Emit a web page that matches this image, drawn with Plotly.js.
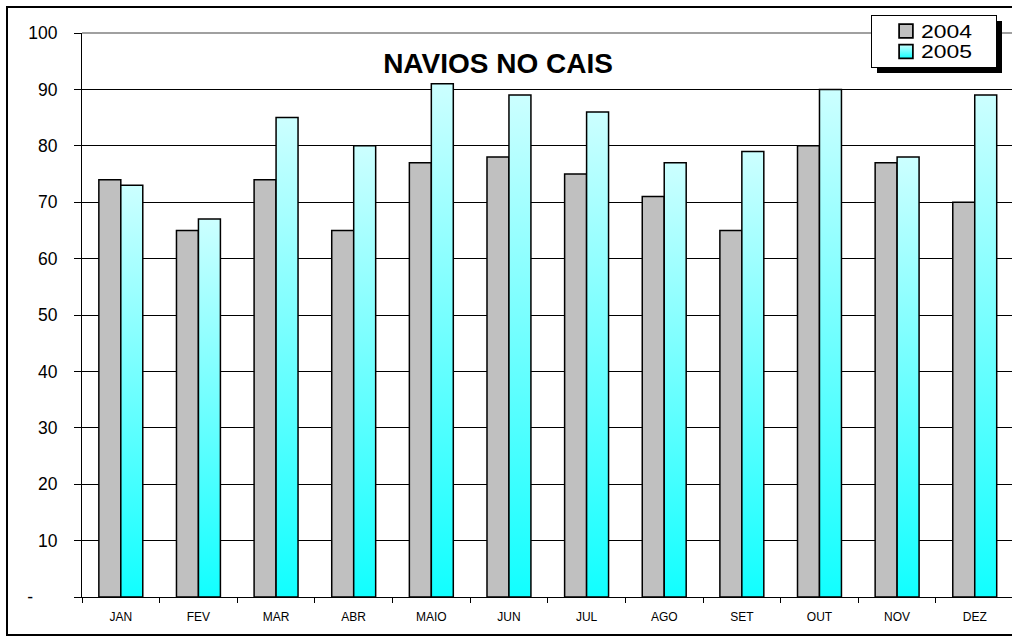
<!DOCTYPE html>
<html>
<head>
<meta charset="utf-8">
<script src="https://cdn.plot.ly/plotly-3.0.1.min.js"></script>
<style>
  html, body { margin: 0; padding: 0; background: #fff; }
  #chart { width: 1012px; height: 636px; }
</style>
</head>
<body>
<div id="chart"></div>
<script>
// ---- data ----
const months = ["JAN", "FEV", "MAR", "ABR", "MAIO", "JUN", "JUL", "AGO", "SET", "OUT", "NOV", "DEZ"];
const values2004 = [74, 65, 74, 65, 77, 78, 75, 71, 65, 80, 77, 70];
const values2005 = [73, 67, 85, 80, 91, 89, 86, 77, 79, 90, 78, 89];
const yTickVals = [0, 10, 20, 30, 40, 50, 60, 70, 80, 90, 100];
const yTickText = ["-\u00a0\u00a0\u00a0\u00a0\u00a0", "10", "20", "30", "40", "50", "60", "70", "80", "90", "100"];
const seriesNames = ["2004", "2005"];

const FONT = "Liberation Sans, Arial, Helvetica, sans-serif";
// plot area in px: left 82, right 1012, top 33, bottom 597
const PL = 82, PW = 930, PB = 597, PH = 564;
const px = x => (x - PL) / PW;
const py = y => (PB - y) / PH;

const traces = [
  {
    type: "bar", name: seriesNames[0], x: months, y: values2004,
    marker: { color: "#c0c0c0", line: { color: "#000", width: 1.5 } },
    hoverinfo: "x+y+name"
  },
  {
    type: "bar", name: seriesNames[1], x: months, y: values2005,
    marker: { color: "#66ffff", line: { color: "#000", width: 1.5 } },
    hoverinfo: "x+y+name"
  }
];

const layout = {
  width: 1012, height: 636,
  margin: { l: PL, r: 0, t: 33, b: 636 - PB, pad: 0 },
  paper_bgcolor: "#fff", plot_bgcolor: "#fff",
  font: { family: FONT, color: "#000" },
  barmode: "group", bargap: 0.434, bargroupgap: 0,
  title: {
    text: "<b>NAVIOS NO CAIS</b>",
    x: 498 / 1012, xanchor: "center",
    y: 1 - 63 / 636, yanchor: "middle",
    font: { family: FONT, size: 28, color: "#000" }
  },
  xaxis: {
    type: "category",
    range: [-0.5, 11.48],
    tickson: "boundaries",
    ticks: "outside", ticklen: 5, tickwidth: 1, tickcolor: "#000",
    showline: true, linecolor: "#000", linewidth: 1,
    showgrid: false, zeroline: false,
    tickfont: { family: FONT, size: 12, color: "#000" },
    ticklabelstandoff: 9
  },
  yaxis: {
    range: [0, 100],
    tickmode: "array", tickvals: yTickVals, ticktext: yTickText,
    ticks: "outside", ticklen: 7, tickwidth: 1, tickcolor: "#000",
    showline: true, linecolor: "#000", linewidth: 1,
    showgrid: true, gridcolor: "#000", gridwidth: 1,
    zeroline: false,
    tickfont: { family: FONT, size: 17.5, color: "#000" },
    ticklabelstandoff: 13
  },
  legend: {
    x: px(997), xanchor: "right",
    y: py(15), yanchor: "top",
    bgcolor: "#fff", bordercolor: "#000", borderwidth: 1,
    font: { family: FONT, size: 17.5, color: "#000" },
    tracegroupgap: 0
  },
  showlegend: true,
  shapes: [
    // gray top border of plot area (100 line)
    { type: "line", xref: "paper", yref: "paper", x0: 0, x1: 1.01, y0: 1, y1: 1,
      line: { color: "#808080", width: 1.5 }, layer: "above" },
    // outer chart border
    { type: "rect", xref: "paper", yref: "paper",
      x0: px(7), x1: px(1020), y0: py(635), y1: py(7),
      line: { color: "#000", width: 2 }, fillcolor: "rgba(0,0,0,0)", layer: "above" }
  ]
};

const gd = document.getElementById("chart");
Plotly.newPlot(gd, traces, layout, { staticPlot: true, displayModeBar: false }).then(() => {
  const ns = "http://www.w3.org/2000/svg";
  const svg = gd.querySelector(".main-svg");
  let defs = svg.querySelector("defs");
  if (!defs) { defs = document.createElementNS(ns, "defs"); svg.insertBefore(defs, svg.firstChild); }
  const lg = document.createElementNS(ns, "linearGradient");
  lg.setAttribute("id", "cyanGrad");
  lg.setAttribute("x1", "0"); lg.setAttribute("y1", "0");
  lg.setAttribute("x2", "0"); lg.setAttribute("y2", "1");
  [["0", "#ccffff"], ["1", "#11ffff"]].forEach(([o, c]) => {
    const s = document.createElementNS(ns, "stop");
    s.setAttribute("offset", o); s.setAttribute("stop-color", c);
    lg.appendChild(s);
  });
  defs.appendChild(lg);

  const barTraces = gd.querySelectorAll(".barlayer .trace");
  if (barTraces[1]) barTraces[1].querySelectorAll("path").forEach(p => { p.style.fill = "url(#cyanGrad)"; });
  const legTraces = gd.querySelectorAll(".legend .traces");
  if (legTraces[1]) legTraces[1].querySelectorAll(".legendpoints path").forEach(p => { p.style.fill = "url(#cyanGrad)"; });

  // compact Excel-like legend box: left 871, top 15, 126 x 52
  const leg = gd.querySelector(".legend");
  const bg = gd.querySelector(".legend .bg");
  if (leg && bg) {
    leg.setAttribute("transform", "translate(871,15)");
    bg.setAttribute("x", "0.5"); bg.setAttribute("y", "0.5");
    bg.setAttribute("width", "125"); bg.setAttribute("height", "52");
    const sb = leg.querySelector(".scrollbox");
    if (sb) { sb.removeAttribute("clip-path"); sb.setAttribute("transform", "translate(0,0)"); }
    legTraces.forEach((tr, i) => {
      tr.setAttribute("transform", "translate(15," + (16 + i * 20.5) + ")");
      const tx = tr.querySelector(".legendtext");
      if (tx) {
        tx.setAttribute("x", "35");
        tx.setAttribute("textLength", "51");
        tx.setAttribute("lengthAdjust", "spacingAndGlyphs");
      }
      tr.querySelectorAll(".legendpoints path").forEach(p => p.setAttribute("transform", "translate(20,0) scale(1.15)"));
    });
    const sh = bg.cloneNode(true);
    sh.classList.remove("bg");
    sh.style.fill = "#000"; sh.style.stroke = "none";
    sh.setAttribute("x", "5.5"); sh.setAttribute("y", "5.5");
    bg.parentNode.insertBefore(sh, bg);
  }
});
</script>
</body>
</html>
